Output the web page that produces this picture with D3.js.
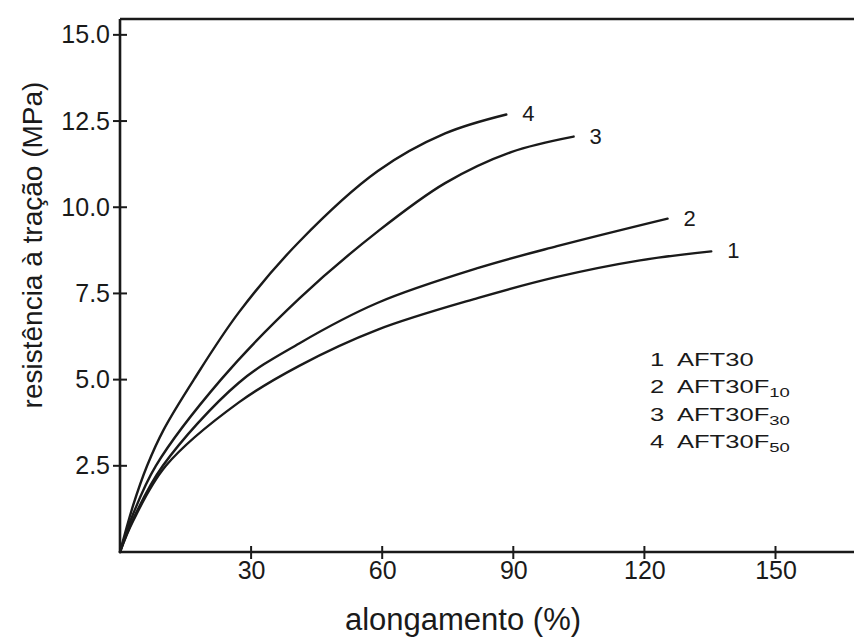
<!DOCTYPE html>
<html>
<head>
<meta charset="utf-8">
<script src="https://cdn.jsdelivr.net/npm/d3@7"></script>
<style>
  html, body { margin: 0; padding: 0; background: #fff; }
  svg { display: block; }
  text { font-family: "Liberation Sans", Arial, Helvetica, sans-serif; fill: #1a1a1a; }
</style>
</head>
<body>
<svg id="chart" width="854" height="637"></svg>
<script>
// ---- data ----
const seriesNames = ["1", "2", "3", "4"];
const legendMain = ["AFT30", "AFT30F", "AFT30F", "AFT30F"];
const legendSub = ["", "10", "30", "50"];

const x1 = [0, 3, 10.5, 27.2, 41, 59, 82, 100, 119, 135.3];
const y1 = [0, 0.9, 2.5, 4.34, 5.4, 6.45, 7.37, 7.98, 8.46, 8.72];

const x2 = [0, 3, 9.8, 27.2, 41, 59, 82, 100, 125.3];
const y2 = [0, 0.95, 2.5, 4.91, 6.05, 7.23, 8.24, 8.87, 9.67];

const x3 = [0, 3, 8.2, 23.1, 41, 59, 74.4, 89.5, 103.8];
const y3 = [0, 1.1, 2.5, 5.0, 7.35, 9.3, 10.7, 11.6, 12.05];

const x4 = [0, 3, 6.2, 10, 16.9, 27.2, 41, 59, 74.4, 88.4];
const y4 = [0, 1.35, 2.5, 3.55, 5.0, 6.95, 9.0, 11.05, 12.14, 12.69];

const xTicks = [30, 60, 90, 120, 150];
const yTicks = [2.5, 5.0, 7.5, 10.0, 12.5, 15.0];

const xTitle = "alongamento (%)";
const yTitle = "resistência à tração (MPa)";

// ---- layout ----
const svg = d3.select("#chart");
const x0px = 120, yBase = 552, yTop = 19;
const x = d3.scaleLinear().domain([0, 170]).range([x0px, x0px + 170 * 4.37]);
const y = d3.scaleLinear().domain([0, 15.46]).range([yBase, yTop]);

const ink = "#1a1a1a";

// frame: top border
svg.append("line").attr("x1", x(0)).attr("x2", 860).attr("y1", y(15.46)).attr("y2", y(15.46))
  .attr("stroke", ink).attr("stroke-width", 2.6);

const xAxis = d3.axisBottom(x).tickValues(xTicks).tickFormat(d3.format("d")).tickSize(0).tickPadding(13);
const gx = svg.append("g").attr("transform", `translate(0,${yBase})`).call(xAxis);
gx.select(".domain").remove();
gx.selectAll("text").attr("font-size", 25).attr("fill", ink).attr("dy", "0.55em");

const yAxis = d3.axisLeft(y).tickValues(yTicks).tickFormat(d3.format(".1f")).tickSize(0).tickPadding(10);
const gy = svg.append("g").attr("transform", `translate(${x0px},0)`).call(yAxis);
gy.select(".domain").remove();
gy.selectAll("text").attr("font-size", 25).attr("fill", ink);

// axis lines
svg.append("line").attr("x1", x(0)).attr("x2", 860).attr("y1", yBase).attr("y2", yBase)
  .attr("stroke", ink).attr("stroke-width", 2.6);
svg.append("line").attr("x1", x(0)).attr("x2", x(0)).attr("y1", y(15.46)).attr("y2", yBase)
  .attr("stroke", ink).attr("stroke-width", 2.6);

// crossing tick marks
svg.append("g").selectAll("line").data(xTicks).join("line")
  .attr("x1", d => x(d)).attr("x2", d => x(d)).attr("y1", yBase - 6).attr("y2", yBase + 7)
  .attr("stroke", ink).attr("stroke-width", 2);
svg.append("g").selectAll("line").data(yTicks).join("line")
  .attr("x1", x(0) - 7).attr("x2", x(0) + 7).attr("y1", d => y(d)).attr("y2", d => y(d))
  .attr("stroke", ink).attr("stroke-width", 2);

// curves
const allX = [x1, x2, x3, x4];
const allY = [y1, y2, y3, y4];
const series = seriesNames.map((n, i) => ({ name: n, pts: allX[i].map((v, j) => [v, allY[i][j]]) }));

const line = d3.line().x(d => x(d[0])).y(d => y(d[1])).curve(d3.curveCatmullRom.alpha(0.5));
svg.append("g").selectAll("path").data(series).join("path")
  .attr("d", d => line(d.pts))
  .attr("fill", "none").attr("stroke", ink).attr("stroke-width", 2.4)
  .attr("stroke-linecap", "round");

// curve end labels
svg.append("g").selectAll("text").data(series).join("text")
  .attr("x", d => x(d.pts[d.pts.length - 1][0]) + 16)
  .attr("y", d => y(d.pts[d.pts.length - 1][1]) + 7)
  .attr("font-size", 22)
  .text(d => d.name);

// legend
const lg = svg.append("g").attr("transform", "translate(650,366)");
seriesNames.forEach((n, i) => {
  const row = lg.append("g").attr("transform", `translate(0,${i * 27.3}) scale(1.42,1)`);
  row.append("text").attr("x", 0).attr("y", 0).attr("font-size", 18).text(n);
  const t = row.append("text").attr("x", 19).attr("y", 0).attr("font-size", 18);
  t.append("tspan").text(legendMain[i]);
  if (legendSub[i]) t.append("tspan").attr("font-size", 13).attr("dy", 4).text(legendSub[i]);
});

// axis titles
svg.append("text").attr("x", 463).attr("y", 630).attr("text-anchor", "middle")
  .attr("font-size", 31).text(xTitle);
svg.append("text").attr("transform", "translate(42,245) rotate(-90)").attr("text-anchor", "middle")
  .attr("font-size", 28).text(yTitle);
</script>
</body>
</html>
